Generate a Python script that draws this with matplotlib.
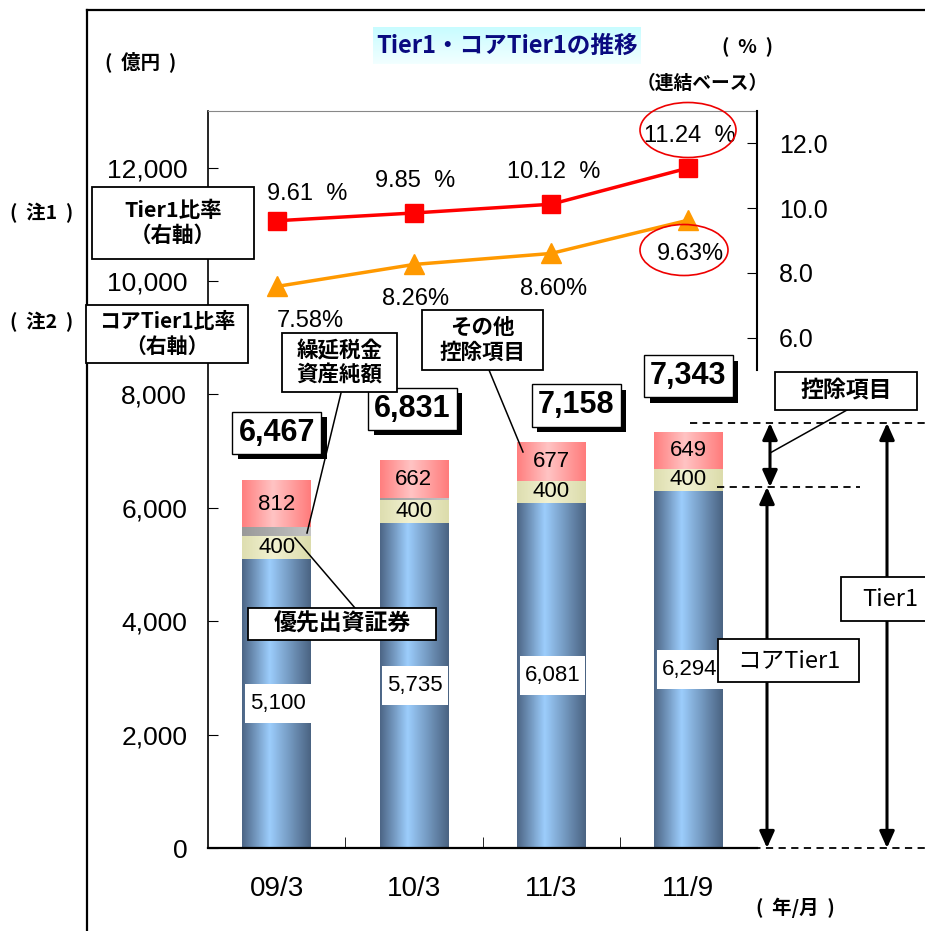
import numpy as np
import matplotlib
matplotlib.use('Agg')
import matplotlib.pyplot as plt
import matplotlib.patheffects as pe
from matplotlib.colors import LinearSegmentedColormap
from matplotlib.patches import Rectangle, Ellipse

plt.rcParams['font.family'] = ['Liberation Sans', 'Noto Sans CJK JP']
JP = ['Noto Sans CJK JP', 'Liberation Sans']

# data (億円 / %)
periods = ['09/3', '10/3', '11/3', '11/9']
core_tier1 = [5100, 5735, 6081, 6294]
preferred = [400, 400, 400, 400]
other_ded = [812, 662, 677, 649]
tier1_total = [6467, 6831, 7158, 7343]
tier1_ratio = [9.61, 9.85, 10.12, 11.24]
core_ratio = [7.58, 8.26, 8.60, 9.63]

# net deferred tax assets = what is left of Tier1
dta = [t - c - p - o for t, c, p, o in zip(tier1_total, core_tier1, preferred, other_ded)]

# label offsets (points) for the line values and the total boxes
t1_off = [(22, 19), (1, 23), (1.5, 23), (1, 23)]
core_off = [(24, -25), (1, -25), (1.5, -25.5), (1.5, -24.5)]
total_off = [(0, 35), (-1, 37.5), (18, 26.5), (0, 40)]

blue = LinearSegmentedColormap.from_list('b', [(0, '#4d6686'), (0.4, '#9ccdfc'), (1, '#4b6483')])
pink = LinearSegmentedColormap.from_list('r', [(0, '#ff7f7f'), (0.45, '#ffc4c4'), (1, '#ff7c7c')])
beige = LinearSegmentedColormap.from_list('y', [(0, '#dedeb0'), (0.45, '#f2f2d2'), (1, '#dcdcac')])
grey = LinearSegmentedColormap.from_list('g', [(0, '#999999'), (1, '#c4c4c4')])
title_bg = LinearSegmentedColormap.from_list('t', ['#c8fcff', '#f2ffff'])

fig = plt.figure(figsize=(9.25, 9.31), dpi=100)
W, H = 925, 931

ax = fig.add_axes([208 / W, (H - 848) / H, (757 - 208) / W, (848 - 111) / H])
ax2 = fig.add_axes([208 / W, (H - 370) / H, (757 - 208) / W, (370 - 111) / H])
ax2.patch.set_visible(False)

grad = np.linspace(0, 1, 64).reshape(1, -1)


def grad_seg(x, bottom, height, cmap, width=0.5):
    if height <= 0:
        return
    ax.imshow(grad, cmap=cmap, aspect='auto', interpolation='bilinear',
              extent=(x - width / 2, x + width / 2, bottom, bottom + height), zorder=2)


x = np.arange(len(periods))
for i in x:
    b = 0
    for val, cm in [(core_tier1[i], blue), (preferred[i], beige), (dta[i], grey), (other_ded[i], pink)]:
        grad_seg(i, b, val, cm)
        b += val

    # core Tier1 value on a white label
    c = core_tier1[i]
    ax.add_patch(Rectangle((i - 0.23, c / 2 - 345), 0.48, 690, fc='white', ec='none', zorder=3))
    ax.text(i + 0.01, c / 2, f'{c:,}', ha='center', va='center', fontsize=16, zorder=4)
    ax.text(i, c + preferred[i] / 2, f'{preferred[i]}', ha='center', va='center', fontsize=16, zorder=4)
    top = tier1_total[i]
    ax.text(i, top - other_ded[i] / 2, f'{other_ded[i]}', ha='center', va='center', fontsize=16, zorder=4)

    ann = ax.annotate(f'{top:,}', (i, top), xytext=total_off[i], textcoords='offset points',
                      ha='center', va='center', fontsize=22, fontweight='bold', zorder=5,
                      bbox=dict(boxstyle='square,pad=0.2', fc='white', ec='black', lw=1))
    ann.get_bbox_patch().set_path_effects([pe.withSimplePatchShadow(offset=(4, -4), shadow_rgbFace='black', alpha=1)])

ax.set_xlim(-0.5, 3.5)
ax.set_ylim(0, 13000)
ax.set_yticks(range(0, 12001, 2000))
ax.set_yticklabels([f'{v:,}' for v in range(0, 12001, 2000)])
ax.set_xticks(x)
ax.set_xticklabels(periods)
ax.set_xticks([0.5, 1.5, 2.5], minor=True)
ax.tick_params(axis='y', direction='in', length=7, pad=15, labelsize=19)
ax.tick_params(axis='x', which='major', length=0, pad=20, labelsize=20)
ax.tick_params(axis='x', which='minor', direction='in', length=8)
ax.spines['right'].set_visible(False)
ax.spines['top'].set_color('#888888')
ax.spines['left'].set_linewidth(1.2)
ax.spines['bottom'].set_linewidth(1.6)

# ratios on the right axis
ax2.plot(x, tier1_ratio, color='#ff0000', lw=2.5, marker='s', ms=13, zorder=3)
ax2.plot(x, core_ratio, color='#ff9900', lw=2.5, marker='^', ms=15, zorder=3)
for i in x:
    ax2.annotate(f'{tier1_ratio[i]:.2f}  %', (i, tier1_ratio[i]), xytext=t1_off[i],
                 textcoords='offset points', ha='center', va='center', fontsize=17)
    ax2.annotate(f'{core_ratio[i]:.2f}%', (i, core_ratio[i]), xytext=core_off[i],
                 textcoords='offset points', ha='center', va='center', fontsize=17)
ax2.set_xlim(-0.5, 3.5)
ax2.set_ylim(5, 13)
ax2.set_xticks([])
ax2.yaxis.tick_right()
ax2.set_yticks([6, 8, 10, 12])
ax2.set_yticklabels(['6.0', '8.0', '10.0', '12.0'])
ax2.tick_params(axis='y', direction='in', length=7, pad=16, labelsize=18)
for s in ['left', 'top', 'bottom']:
    ax2.spines[s].set_visible(False)
ax2.spines['right'].set_linewidth(1.5)

# overlay in pixel units for notes, arrows and the frame
lay = fig.add_axes([0, 0, 1, 1], zorder=10)
lay.set_xlim(0, W)
lay.set_ylim(H, 0)
lay.axis('off')
lay.patch.set_alpha(0)

lay.plot([87, 87], [10, H], color='black', lw=1.6)
lay.plot([87, W], [10, 10], color='black', lw=1.6)

lay.imshow(np.linspace(0, 1, 32).reshape(-1, 1), cmap=title_bg, aspect='auto',
           extent=(373, 641, 64, 27), zorder=1)
lay.text(507, 46, 'Tier1・コアTier1の推移', ha='center', va='center', fontsize=17,
         fontweight='bold', color='#0a0a80', family=JP, zorder=2)


def label(x0, y0, text, size=14):
    lay.text(x0, y0, text, ha='center', va='center', fontsize=size, fontweight='bold', family=JP)


label(141, 62, '(  億円  )')
label(748, 47, '(  %  )')
label(702, 83, '（連結ベース）', 13.5)
label(42, 213, '(  注1  )')
label(42, 322, '(  注2  )')
label(795, 908, '(  年/月  )')


def note(x0, y0, x1, y1, text, size, weight='bold'):
    lay.add_patch(Rectangle((x0, y0), x1 - x0, y1 - y0, fc='white', ec='black', lw=1.3, zorder=4))
    lay.text((x0 + x1) / 2, (y0 + y1) / 2, text, ha='center', va='center', fontsize=size,
             fontweight=weight, family=JP, linespacing=1.2, zorder=5)


# leader lines
for xs, ys in [([341, 307], [393, 533]), ([489, 523], [370, 452]),
               ([295, 355], [538, 608]), ([847, 770], [410, 453])]:
    lay.plot(xs, ys, color='black', lw=1.1, zorder=3)

# dashed guides
for xs, yv in [([690, W], 423), ([717, 860], 487), ([728, W], 848)]:
    lay.plot(xs, [yv, yv], color='black', lw=1.3, ls=(0, (4, 3)), zorder=3)

# arrows
head = '<|-|>,head_length=1.0,head_width=0.45'
for xa, ya, yb in [(770, 423, 487), (767, 487, 848), (887, 423, 848)]:
    lay.annotate('', xy=(xa, ya), xytext=(xa, yb), zorder=3,
                 arrowprops=dict(arrowstyle=head, color='black', lw=2.2, shrinkA=0, shrinkB=0))

note(92, 187, 254, 259, 'Tier1比率\n（右軸）', 15.5)
note(86, 305, 248, 363, 'コアTier1比率\n（右軸）', 15)
note(282, 333, 397, 392, '繰延税金\n資産純額', 15.5)
note(422, 310, 543, 370, 'その他\n控除項目', 15.5)
note(248, 608, 436, 640, '優先出資証券', 16.5)
note(775, 372, 917, 410, '控除項目', 16.5)
note(841, 577, 940, 621, 'Tier1', 17, 'normal')
note(718, 639, 859, 682, 'コアTier1', 17, 'normal')

# highlight rings around the latest ratios
lay.add_patch(Ellipse((688, 130), 96, 55, fc='none', ec='#ee0000', lw=1.2, zorder=3))
lay.add_patch(Ellipse((684, 250), 88, 51, fc='none', ec='#ee0000', lw=1.2, zorder=3))

fig.savefig('out.png', dpi=100)
